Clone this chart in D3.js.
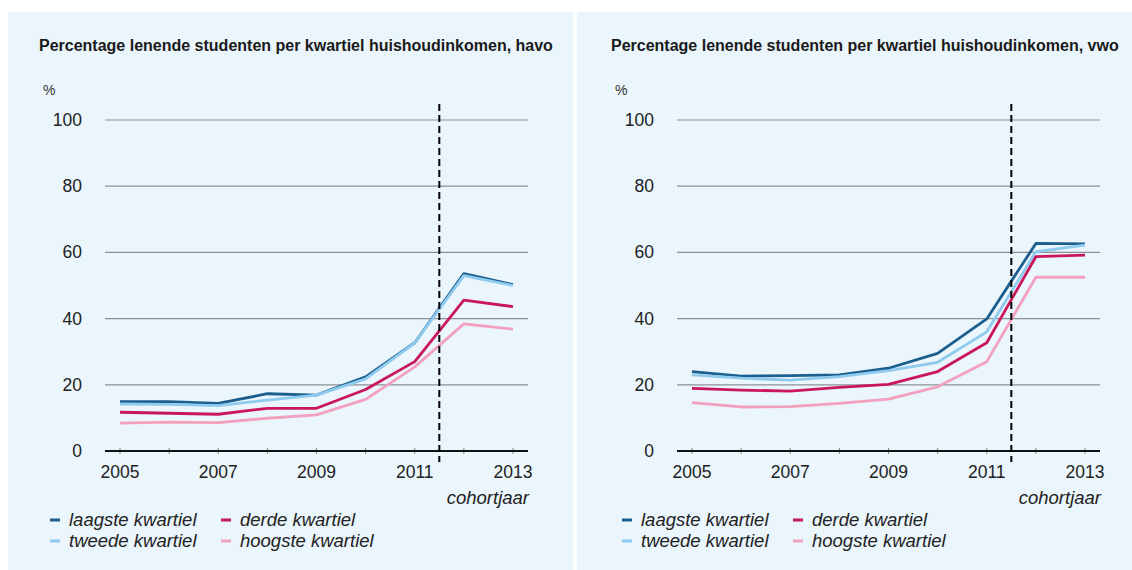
<!DOCTYPE html>
<html>
<head>
<meta charset="utf-8">
<script src="https://cdnjs.cloudflare.com/ajax/libs/d3/7.8.5/d3.min.js"></script>
<style>
 body { margin: 0; background: #fff; }
 svg { display: block; font-family: "Liberation Sans", Arial, sans-serif; }
</style>
</head>
<body>
<svg width="1132" height="570"></svg>
<script>
// Data
var years = [2005, 2006, 2007, 2008, 2009, 2010, 2011, 2012, 2013];
var yTicks = [0, 20, 40, 60, 80, 100];
var xTicks = [2005, 2007, 2009, 2011, 2013];
var seriesNames = ["laagste kwartiel", "tweede kwartiel", "derde kwartiel", "hoogste kwartiel"];

// havo
var havoLaagste = [14.9, 14.9, 14.4, 17.3, 16.9, 22.4, 32.7, 53.6, 50.3];
var havoTweede = [14.2, 14.1, 13.7, 15.4, 16.9, 21.8, 32.7, 53.0, 50.0];
var havoDerde = [11.7, 11.4, 11.1, 12.9, 12.9, 18.6, 27.0, 45.6, 43.6];
var havoHoogste = [8.4, 8.7, 8.6, 9.9, 10.9, 15.6, 25.4, 38.4, 36.8];

// vwo
var vwoLaagste = [24.0, 22.6, 22.8, 23.0, 25.0, 29.5, 39.9, 62.7, 62.6];
var vwoTweede = [23.0, 22.0, 21.4, 22.5, 24.3, 26.8, 36.0, 60.2, 62.2];
var vwoDerde = [18.9, 18.4, 18.1, 19.2, 20.1, 24.0, 32.7, 58.7, 59.2];
var vwoHoogste = [14.6, 13.3, 13.4, 14.4, 15.7, 19.4, 27.0, 52.5, 52.5];

var colors = ["#1c5f8e", "#8fcbee", "#c9175a", "#f3a0bf"];
var reformYear = 2011.5;

var svg = d3.select("svg");

// the two light blue panels
svg.append("rect").attr("x", 8).attr("y", 12).attr("width", 565).attr("height", 558).attr("fill", "#eaf5fc");
svg.append("rect").attr("x", 577).attr("y", 12).attr("width", 555).attr("height", 558).attr("fill", "#eaf5fc");

function drawPanel(off, title, series) {
 var x = d3.scaleLinear().domain([2005, 2013]).range([120 + off, 513 + off]);
 var y = d3.scaleLinear().domain([0, 100]).range([451, 120]);

 var g = svg.append("g");

 g.append("text")
  .text(title)
  .attr("x", 39 + off)
  .attr("y", 51)
  .attr("font-size", "16px")
  .attr("font-weight", "bold")
  .attr("fill", "#1a1a1a");

 g.append("text")
  .text("%")
  .attr("x", 43 + off)
  .attr("y", 95)
  .attr("font-size", "14px")
  .attr("fill", "#333");

 // grid lines
 g.selectAll(".grid")
  .data(yTicks.filter(function(d) { return d > 0; }))
  .enter()
  .append("line")
  .attr("x1", 105 + off)
  .attr("x2", 528 + off)
  .attr("y1", function(d) { return y(d); })
  .attr("y2", function(d) { return y(d); })
  .attr("stroke", "#8c9094")
  .attr("stroke-width", 1.2);

 g.selectAll(".ylab")
  .data(yTicks)
  .enter()
  .append("text")
  .text(function(d) { return d; })
  .attr("x", 82 + off)
  .attr("y", function(d) { return y(d) + 6; })
  .attr("text-anchor", "end")
  .attr("font-size", "17.5px")
  .attr("fill", "#222");

 // small year ticks
 g.selectAll(".tick")
  .data(years)
  .enter()
  .append("line")
  .attr("x1", function(d) { return x(d); })
  .attr("x2", function(d) { return x(d); })
  .attr("y1", y(0) - 3)
  .attr("y2", y(0) + 3)
  .attr("stroke", "#888")
  .attr("stroke-width", 1);

 g.selectAll(".xlab")
  .data(xTicks)
  .enter()
  .append("text")
  .text(function(d) { return d; })
  .attr("x", function(d) { return x(d); })
  .attr("y", 478)
  .attr("text-anchor", "middle")
  .attr("font-size", "17.5px")
  .attr("fill", "#222");

 g.append("text")
  .text("cohortjaar")
  .attr("x", 529 + off)
  .attr("y", 504)
  .attr("text-anchor", "end")
  .attr("font-size", "18.5px")
  .attr("font-style", "italic")
  .attr("fill", "#222");

 var line = d3.line()
  .x(function(d, i) { return x(years[i]); })
  .y(function(d) { return y(d); });

 g.selectAll(".series")
  .data(series)
  .enter()
  .append("path")
  .attr("d", function(d) { return line(d); })
  .attr("fill", "none")
  .attr("stroke", function(d, i) { return colors[i]; })
  .attr("stroke-width", 2.8)
  .attr("stroke-linejoin", "round");

 // x axis line
 g.append("line")
  .attr("x1", 105 + off)
  .attr("x2", 528 + off)
  .attr("y1", y(0))
  .attr("y2", y(0))
  .attr("stroke", "#111")
  .attr("stroke-width", 2.2);

 // dashed line at the reform
 g.append("line")
  .attr("x1", x(reformYear))
  .attr("x2", x(reformYear))
  .attr("y1", 104)
  .attr("y2", 462)
  .attr("stroke", "#000")
  .attr("stroke-width", 2)
  .attr("stroke-dasharray", "7,4");

 // legend
 var legX = [50 + off, 221 + off];
 var legY = [520, 541];
 var leg = g.selectAll(".leg")
  .data(seriesNames)
  .enter()
  .append("g");

 leg.append("line")
  .attr("x1", function(d, i) { return legX[Math.floor(i / 2)]; })
  .attr("x2", function(d, i) { return legX[Math.floor(i / 2)] + 10; })
  .attr("y1", function(d, i) { return legY[i % 2]; })
  .attr("y2", function(d, i) { return legY[i % 2]; })
  .attr("stroke", function(d, i) { return colors[i]; })
  .attr("stroke-width", 3);

 leg.append("text")
  .text(function(d) { return d; })
  .attr("x", function(d, i) { return legX[Math.floor(i / 2)] + 19; })
  .attr("y", function(d, i) { return legY[i % 2] + 6; })
  .attr("font-size", "18.5px")
  .attr("font-style", "italic")
  .attr("fill", "#222");
}

drawPanel(0, "Percentage lenende studenten per kwartiel huishoudinkomen, havo",
 [havoLaagste, havoTweede, havoDerde, havoHoogste]);
drawPanel(572, "Percentage lenende studenten per kwartiel huishoudinkomen, vwo",
 [vwoLaagste, vwoTweede, vwoDerde, vwoHoogste]);
</script>
</body>
</html>
